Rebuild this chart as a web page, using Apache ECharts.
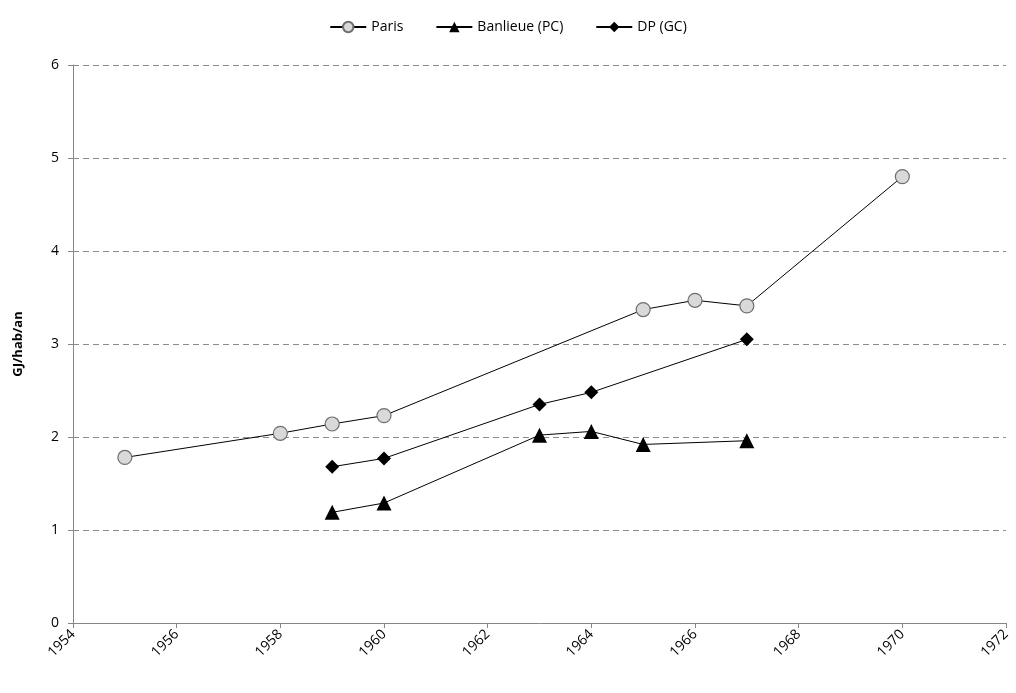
<!DOCTYPE html>
<html><head><meta charset="utf-8">
<script src="https://cdn.jsdelivr.net/npm/echarts@6/dist/echarts.min.js"></script>
<style>html,body{margin:0;padding:0;background:#fff}#c{width:1016px;height:693px}</style>
</head><body><div id="c"></div>
<script>
const parisYears = [1955, 1958, 1959, 1960, 1965, 1966, 1967, 1970];
const parisValues = [1.78, 2.04, 2.14, 2.23, 3.37, 3.47, 3.41, 4.80];
const banlieueYears = [1959, 1960, 1963, 1964, 1965, 1967];
const banlieueValues = [1.19, 1.29, 2.02, 2.06, 1.92, 1.96];
const dpYears = [1959, 1960, 1963, 1964, 1967];
const dpValues = [1.68, 1.77, 2.35, 2.48, 3.05];
const seriesNames = ['Paris', 'Banlieue (PC)', 'DP (GC)'];
const yAxisTitle = 'GJ/hab/an';

const zip = (xs, ys) => xs.map((x, i) => [x, ys[i]]);
const font = 'Open Sans, Lato, sans-serif';
const chart = echarts.init(document.getElementById('c'));
chart.setOption({
  animation: false,
  backgroundColor: '#fff',
  legend: {
    top: 15, left: 'center', itemGap: 32, itemWidth: 36, itemHeight: 13,
    textStyle: {fontFamily: font, fontSize: 14, color: '#000'},
    data: seriesNames
  },
  grid: {left: 73, right: 10, top: 65, bottom: 70},
  xAxis: {
    type: 'value', min: 1954, max: 1972, interval: 2,
    axisLine: {lineStyle: {color: '#868686'}},
    axisTick: {show: true, length: 5, lineStyle: {color: '#868686'}},
    axisLabel: {rotate: 45, fontFamily: font, fontSize: 14, color: '#000', margin: 9,
      formatter: v => String(v)},
    splitLine: {show: false}
  },
  yAxis: {
    type: 'value', min: 0, max: 6, interval: 1,
    name: yAxisTitle, nameLocation: 'middle', nameGap: 48, nameRotate: 90,
    nameTextStyle: {fontFamily: font, fontSize: 13, fontWeight: 'bold', color: '#000'},
    axisLine: {show: true, lineStyle: {color: '#868686'}},
    axisTick: {show: true, length: 5, lineStyle: {color: '#868686'}},
    axisLabel: {fontFamily: font, fontSize: 14, color: '#000', margin: 14},
    splitLine: {show: true, lineStyle: {color: '#8c8c8c', type: [6, 4], width: 1}}
  },
  series: [
    {name: seriesNames[0], type: 'line', data: zip(parisYears, parisValues),
     symbol: 'circle', symbolSize: 14,
     lineStyle: {color: '#000', width: 1},
     itemStyle: {color: '#d9d9d9', borderColor: '#6e6e6e', borderWidth: 1.2}},
    {name: seriesNames[1], type: 'line', data: zip(banlieueYears, banlieueValues),
     symbol: 'triangle', symbolSize: 15,
     lineStyle: {color: '#000', width: 1},
     itemStyle: {color: '#000', borderColor: '#000', borderWidth: 0}},
    {name: seriesNames[2], type: 'line', data: zip(dpYears, dpValues),
     symbol: 'diamond', symbolSize: 14,
     lineStyle: {color: '#000', width: 1},
     itemStyle: {color: '#000', borderColor: '#000', borderWidth: 0}}
  ]
});
</script></body></html>
